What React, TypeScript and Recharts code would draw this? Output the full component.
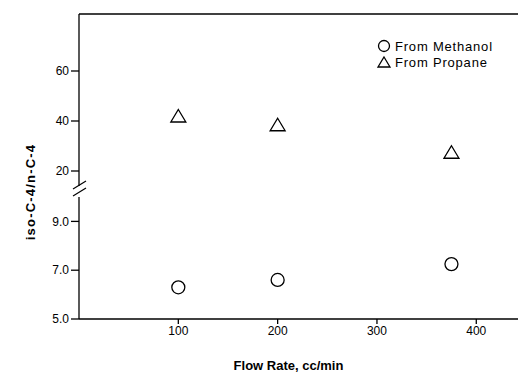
import { ReferenceLine, Scatter, ScatterChart, XAxis, YAxis, Label } from 'recharts'

const flowRates = [100, 200, 375]
const methanolRatio = [6.3, 6.6, 7.25]
const propaneRatio = [42, 38.5, 27.5]
const xTicks = [100, 200, 300, 400]
const upperTicks = [20, 40, 60]
const lowerTicks = [5, 7, 9]
const seriesNames = ['From Methanol', 'From Propane']

const methanolData = flowRates.map((x, i) => ({ x, y: methanolRatio[i] }))
const propaneData = flowRates.map((x, i) => ({ x, y: propaneRatio[i] }))

const font = 'Arial, "Liberation Sans", Helvetica, sans-serif'
const tickStyle = { fontSize: 12, fill: '#000', fontFamily: font }

const OpenCircle = (props: any) => (
    <circle cx={props.cx} cy={props.cy} r={6.5} fill="none" stroke="#000" strokeWidth={1.3} />
)

const OpenTriangle = (props: any) => {
    const { cx, cy } = props
    return (
        <polygon
            points={`${cx},${cy - 6.5} ${cx + 7.5},${cy + 6} ${cx - 7.5},${cy + 6}`}
            fill="none"
            stroke="#000"
            strokeWidth={1.3}
        />
    )
}

const App = () => {
    return (
        <div style={{ position: 'absolute', left: 0, top: 0, width: 518, height: 372, background: '#fff' }}>
            <div style={{ position: 'absolute', left: 0, top: 0 }}>
                <ScatterChart width={518} height={186} margin={{ top: 14, right: 0, bottom: 0, left: 0 }}>
                    <XAxis type="number" dataKey="x" domain={[0, 442]} hide />
                    <YAxis
                        type="number"
                        dataKey="y"
                        domain={[14, 82.8]}
                        ticks={upperTicks}
                        width={79}
                        allowDataOverflow
                        tick={tickStyle}
                        tickSize={8}
                        stroke="#000"
                        strokeWidth={1.3}
                    />
                    <ReferenceLine y={82.8} stroke="#000" strokeWidth={1.5} />
                    <Scatter data={propaneData} shape={OpenTriangle} isAnimationActive={false} />
                </ScatterChart>
            </div>
            <div style={{ position: 'absolute', left: 0, top: 186 }}>
                <ScatterChart width={518} height={186} margin={{ top: 11, right: 0, bottom: 0, left: 0 }}>
                    <XAxis
                        type="number"
                        dataKey="x"
                        domain={[0, 442]}
                        ticks={xTicks}
                        height={53}
                        tick={tickStyle}
                        tickSize={5}
                        stroke="#000"
                        strokeWidth={1.3}
                    >
                        <Label
                            value="Flow Rate, cc/min"
                            position="insideBottom"
                            offset={2}
                            dx={-10}
                            style={{ fontSize: 13, fontWeight: 'bold', fill: '#000', fontFamily: font }}
                        />
                    </XAxis>
                    <YAxis
                        type="number"
                        dataKey="y"
                        domain={[5, 10]}
                        ticks={lowerTicks}
                        width={79}
                        allowDataOverflow
                        tick={tickStyle}
                        tickSize={8}
                        tickFormatter={(v: number) => v.toFixed(1)}
                        stroke="#000"
                        strokeWidth={1.3}
                    />
                    <Scatter data={methanolData} shape={OpenCircle} isAnimationActive={false} />
                </ScatterChart>
            </div>
            <svg width={518} height={372} style={{ position: 'absolute', left: 0, top: 0, pointerEvents: 'none' }}>
                <line x1={73} y1={189} x2={86} y2={181} stroke="#000" strokeWidth={1.3} />
                <line x1={73} y1={196} x2={86} y2={188} stroke="#000" strokeWidth={1.3} />
                <text
                    transform="translate(35,192) rotate(-90)"
                    textAnchor="middle"
                    fontSize={13}
                    fontWeight="bold"
                    letterSpacing={1.2}
                    fontFamily={font}
                    fill="#000"
                >
                    iso-C-4/n-C-4
                </text>
                <g fontFamily={font} fontSize={13} letterSpacing={0.8} fill="#000">
                    <circle cx={384} cy={46} r={5.5} fill="none" stroke="#000" strokeWidth={1.3} />
                    <text x={395} y={50.5}>{seriesNames[0]}</text>
                    <polygon points="384,57 390,67 378,67" fill="none" stroke="#000" strokeWidth={1.3} />
                    <text x={395} y={67}>{seriesNames[1]}</text>
                </g>
            </svg>
        </div>
    )
}

export default App
